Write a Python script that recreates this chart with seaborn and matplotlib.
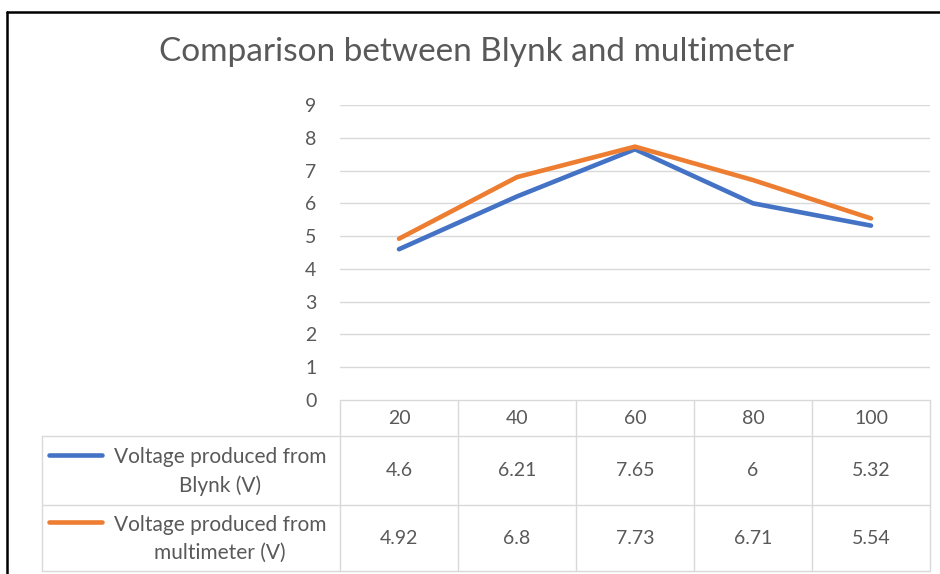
import matplotlib.pyplot as plt
import pandas as pd
import seaborn as sns
from matplotlib.lines import Line2D

W, H = 940, 574

categories = ["20", "40", "60", "80", "100"]
blynk = [4.6, 6.21, 7.65, 6, 5.32]
multimeter = [4.92, 6.8, 7.73, 6.71, 5.54]
series_names = ["Blynk", "multimeter"]
series_labels = ["Voltage produced from\nBlynk (V)", "Voltage produced from\nmultimeter (V)"]
y_ticks = list(range(0, 10))
TITLE = "Comparison between Blynk and multimeter"

COLORS = ["#4472C4", "#ED7D31"]
TEXT = "#595959"
GRID = "#D9D9D9"

sns.set_theme(style="white")
plt.rcParams["font.family"] = ["Lato", "DejaVu Sans"]

df = pd.DataFrame({
    "category": categories * 2,
    "value": blynk + multimeter,
    "series": [series_names[0]] * len(blynk) + [series_names[1]] * len(multimeter),
})

fig = plt.figure(figsize=(W / 100, H / 100), dpi=100)


def fx(px):
    return px / W


def fy(py):
    return 1 - py / H


# main plot area
ax = fig.add_axes([fx(340), fy(400), fx(930) - fx(340), fy(105) - fy(400)])
sns.lineplot(
    data=df, x="category", y="value", hue="series", palette=COLORS,
    linewidth=3.3, legend=False, sort=False, ax=ax,
    solid_capstyle="round", solid_joinstyle="round",
)
ax.set_xlim(-0.5, len(categories) - 0.5)
ax.set_ylim(0, 9)
ax.set_yticks(y_ticks)
ax.set_xticks([])
ax.set_xlabel("")
ax.set_ylabel("")
ax.yaxis.grid(True, color=GRID, linewidth=1)
ax.set_axisbelow(True)
for s in ax.spines.values():
    s.set_visible(False)
ax.tick_params(axis="y", length=0, pad=17, labelsize=14, labelcolor=TEXT)

fig.text(fx(477), fy(52), TITLE, ha="center", va="center", fontsize=24, color=TEXT)

# data table under the plot, drawn on an overlay in pixel units
tab = fig.add_axes([0, 0, 1, 1], zorder=-1)
tab.set_xlim(0, W)
tab.set_ylim(H, 0)
tab.axis("off")

edges = [ax.transData.transform((i - 0.5, 0))[0] for i in range(len(categories) + 1)]
centers = [(a + b) / 2 for a, b in zip(edges[:-1], edges[1:])]
label_left = 42
rows = [400, 436, 505, 571]

kw = dict(color=GRID, linewidth=1)
tab.plot([edges[0], edges[-1]], [rows[0], rows[0]], **kw)
for r in rows[1:]:
    tab.plot([label_left, edges[-1]], [r, r], **kw)
for e in edges:
    tab.plot([e, e], [rows[0], rows[-1]], **kw)
tab.plot([label_left, label_left], [rows[1], rows[-1]], **kw)

for c, cat in zip(centers, categories):
    tab.text(c, (rows[0] + rows[1]) / 2 + 1, cat, ha="center", va="center", fontsize=14, color=TEXT)

for k, vals in enumerate([blynk, multimeter]):
    top, bot = rows[k + 1], rows[k + 2]
    mid = (top + bot) / 2
    for c, v in zip(centers, vals):
        tab.text(c, mid, f"{v:g}", ha="center", va="center", fontsize=14, color=TEXT)
    tab.text(220, mid + 1, series_labels[k], ha="center", va="center", fontsize=15,
             color=TEXT, linespacing=1.45)
    tab.plot([49, 102], [mid - 16, mid - 16], color=COLORS[k], linewidth=3.3,
             solid_capstyle="round")

# outer frame (top and left edges visible)
fig.add_artist(Line2D([fx(7), 1], [fy(12), fy(12)], color="black", linewidth=1.8))
fig.add_artist(Line2D([fx(7), fx(7)], [fy(12), 0], color="black", linewidth=1.8))

fig.savefig("out.png", dpi=100, facecolor="white")
